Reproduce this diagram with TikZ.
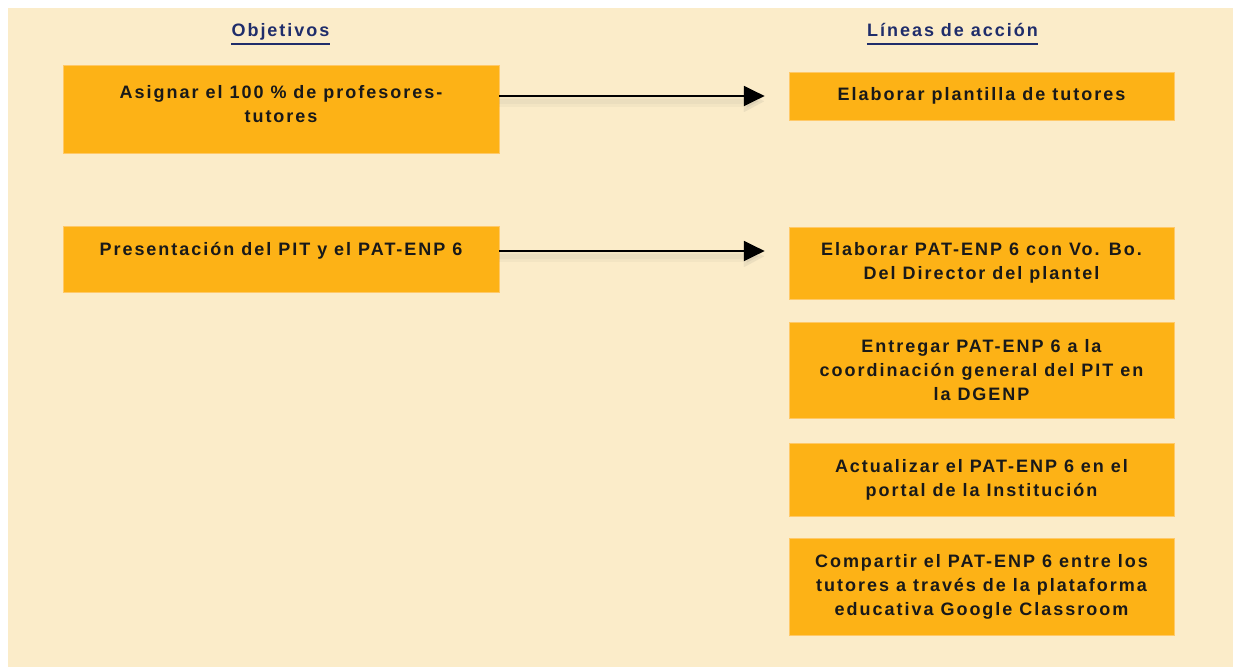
\documentclass[tikz,border=0pt]{standalone}
\usepackage{fontspec}
\setmainfont{Liberation Sans}[LetterSpace=11]
\usepackage{xcolor}
\usetikzlibrary{positioning,arrows.meta}
\definecolor{fondo}{HTML}{FBECC9}
\definecolor{naranja}{HTML}{FDB216}
\definecolor{borde}{HTML}{FFC968}
\definecolor{marino}{HTML}{1F2D6B}
\tikzset{every node/.style={font=\fontsize{13.5pt}{18pt}\selectfont\bfseries},
    objbox/.style={fill=naranja,draw=borde,line width=0.6pt,minimum width=327pt},
    accbox/.style={fill=naranja,draw=borde,line width=0.6pt,minimum width=288.75pt,align=center,text=black!90},
    objtext/.style={align=center,text=black!90,inner sep=0pt},
    heading/.style={text=marino,inner xsep=0pt,inner ysep=0pt,text depth=5.25pt},
    underl/.style={draw=marino,line width=1.4pt},
    flecha/.style={draw=black,line width=1.1pt,-{Triangle[length=15.5pt,width=15pt]},
        preaction={draw=black!60,opacity=0.05,line width=8pt,transform canvas={yshift=-4pt}},
        preaction={draw=black!60,opacity=0.05,line width=4pt,transform canvas={yshift=-4pt}}},
    x=0.75pt,y=-0.75pt}

\begin{document}
\begin{tikzpicture}
	\useasboundingbox (0,0) rectangle (1233,667);
	\fill[fondo] (8,8) rectangle (1233,667);
	\node[heading,anchor=base] (hobj) at (280.5,37) {Objetivos};
	\node[heading,anchor=base] (hacc) at (952.5,37) {Líneas de acción};
	\draw[underl] (hobj.south west) -- (hobj.south east);
	\draw[underl] (hacc.south west) -- (hacc.south east);
	\node[objbox,minimum height=66pt] (obj1) at (281,109) {};
	\node[objtext] (obj1t) at (281,104) {Asignar el 100 \% de profesores-\\tutores};
	\node[objbox,minimum height=49.5pt] (obj2) at (281,259) {};
	\node[objtext] (obj2t) at (281,251) {Presentación del PIT y el PAT-ENP 6};
	\node[accbox,minimum height=36pt] (acc1) at (981.5,96) {Elaborar plantilla de tutores};
	\node[accbox,minimum height=54pt] (acc2) at (981.5,263) {Elaborar PAT-ENP 6 con Vo. Bo.\\Del Director del plantel};
	\node[accbox,minimum height=72pt] (acc3) at (981.5,370) {Entregar PAT-ENP 6 a la\\coordinación general del PIT en\\la DGENP};
	\node[accbox,minimum height=54.75pt] (acc4) at (981.5,480) {Actualizar el PAT-ENP 6 en el\\portal de la Institución};
	\node[accbox,minimum height=72.75pt] (acc5) at (981.5,587) {Compartir el PAT-ENP 6 entre los\\tutores a través de la plataforma\\educativa Google Classroom};
	\coordinate[left=18pt of acc1.west] (fin1);
	\coordinate (fin2) at (fin1 |- obj2t);
	\draw[flecha] (obj1.east |- acc1) -- (fin1);
	\draw[flecha] (obj2.east |- obj2t) -- (fin2);
\end{tikzpicture}
\end{document}
